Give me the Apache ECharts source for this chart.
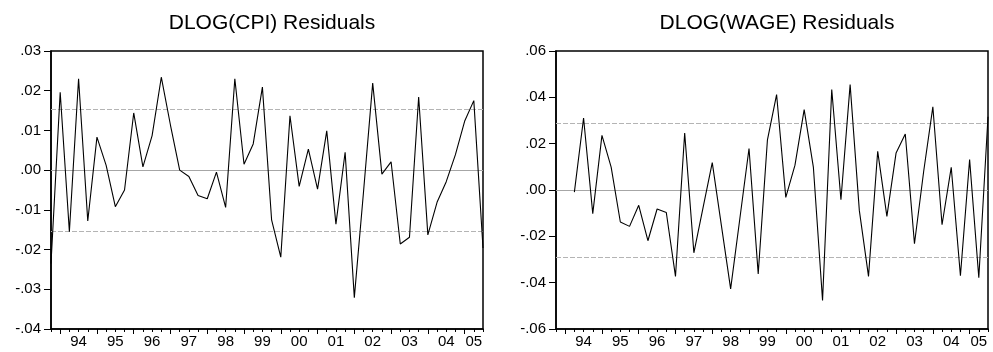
<!DOCTYPE html>
<html>
<head>
<meta charset="utf-8">
<script src="https://cdn.jsdelivr.net/npm/echarts@6/dist/echarts.min.js"></script>
<style>
  html, body { margin: 0; padding: 0; background: #fff; }
  #chart { width: 993px; height: 352px; }
</style>
</head>
<body>
<div id="chart"></div>
<script>
// Quarterly observations, 1993Q4 - 2005Q3
const quarters = [
  '1993Q4',
  '1994Q1','1994Q2','1994Q3','1994Q4',
  '1995Q1','1995Q2','1995Q3','1995Q4',
  '1996Q1','1996Q2','1996Q3','1996Q4',
  '1997Q1','1997Q2','1997Q3','1997Q4',
  '1998Q1','1998Q2','1998Q3','1998Q4',
  '1999Q1','1999Q2','1999Q3','1999Q4',
  '2000Q1','2000Q2','2000Q3','2000Q4',
  '2001Q1','2001Q2','2001Q3','2001Q4',
  '2002Q1','2002Q2','2002Q3','2002Q4',
  '2003Q1','2003Q2','2003Q3','2003Q4',
  '2004Q1','2004Q2','2004Q3','2004Q4',
  '2005Q1','2005Q2','2005Q3'
];

// Year tick labels
const yearLabels = ['94','95','96','97','98','99','00','01','02','03','04','05'];

// Residuals of the DLOG(CPI) equation
const cpiResid = [
  -0.0235,
  0.0196, -0.0155, 0.0230, -0.0128,
  0.0083, 0.0012, -0.0092, -0.0050,
  0.0144, 0.0008, 0.0087, 0.0234,
  0.0113, 0.0000, -0.0016, -0.0064,
  -0.0072, -0.0005, -0.0094, 0.0230,
  0.0015, 0.0066, 0.0209, -0.0125,
  -0.0219, 0.0137, -0.0041, 0.0053,
  -0.0048, 0.0099, -0.0136, 0.0045,
  -0.0321, -0.0055, 0.0219, -0.0010,
  0.0021, -0.0186, -0.0169, 0.0184,
  -0.0163, -0.0081, -0.0029, 0.0039,
  0.0123, 0.0175, -0.0196
];

// Residuals of the DLOG(WAGE) equation (first two quarters unavailable)
const wageResid = [
  null,
  null, -0.0009, 0.0311, -0.0102,
  0.0236, 0.0099, -0.0138, -0.0157,
  -0.0066, -0.0219, -0.0082, -0.0097,
  -0.0373, 0.0246, -0.0271, -0.0076,
  0.0118, -0.0155, -0.0427, -0.0124,
  0.0179, -0.0362, 0.0215, 0.0412,
  -0.0032, 0.0107, 0.0347, 0.0099,
  -0.0477, 0.0434, -0.0042, 0.0455,
  -0.0088, -0.0373, 0.0167, -0.0114,
  0.0160, 0.0242, -0.0232, 0.0080,
  0.0359, -0.0150, 0.0098, -0.0370,
  0.0131, -0.0379, 0.0316
];

// Plus/minus one standard error bands
const cpiBand = 0.0154;
const wageBand = 0.0289;

const FONT = 'Liberation Sans, Arial, sans-serif';

// Tick positions (in observation index units)
const lastIdx = quarters.length - 1;
const quarterTicks = quarters.map((q, i) => i);
const yearStarts = quarters.map((q, i) => q.endsWith('Q1') ? i : -1).filter(i => i >= 0);
const yearLabelPos = yearStarts.map(s => (s + Math.min(s + 4, lastIdx)) / 2);
const labelAt = {};
yearLabelPos.forEach((p, k) => { labelAt[p] = yearLabels[k]; });

function fmtY(v) {
  const s = v.toFixed(2);
  return s.replace('0.', '.');
}

function panel(gridIndex, left, title, values, band, yMin, yMax, yStep) {
  const grids = {
    left: left, top: 51, width: 432, height: 278,
    show: true, borderColor: '#000', borderWidth: 1.5, backgroundColor: '#fff'
  };
  const xAxes = [
    {
      type: 'category', gridIndex, data: quarters, boundaryGap: false,
      show: false
    },
    {
      type: 'value', gridIndex, min: 0, max: lastIdx, position: 'bottom',
      axisLine: { show: false },
      axisTick: { show: true, customValues: quarterTicks, length: 3, lineStyle: { color: '#000', width: 1 } },
      axisLabel: { show: false },
      splitLine: { show: false }
    },
    {
      type: 'value', gridIndex, min: 0, max: lastIdx, position: 'bottom',
      axisLine: { show: true, lineStyle: { color: '#000', width: 1.5 } },
      axisTick: { show: true, customValues: yearStarts, length: 5, lineStyle: { color: '#000', width: 1 } },
      axisLabel: {
        show: true, customValues: yearLabelPos, margin: 5,
        formatter: v => labelAt[v] || '',
        color: '#000', fontFamily: FONT, fontSize: 15
      },
      splitLine: { show: false }
    }
  ];
  const yAxis = {
    type: 'value', gridIndex, min: yMin, max: yMax, interval: yStep,
    axisLine: { show: true, lineStyle: { color: '#000', width: 1.5 } },
    axisTick: { show: true, length: 7, lineStyle: { color: '#000' } },
    axisLabel: { color: '#000', fontFamily: FONT, fontSize: 15, margin: 10, formatter: fmtY },
    splitLine: { show: false }
  };
  const titleOpt = {
    text: title, left: left + 216, top: 8, textAlign: 'center',
    textStyle: { fontFamily: FONT, fontSize: 21, fontWeight: 'normal', color: '#000' }
  };
  return { grids, xAxes, yAxis, titleOpt, values, band };
}

const panels = [
  panel(0, 51, 'DLOG(CPI) Residuals', cpiResid, cpiBand, -0.04, 0.03, 0.01),
  panel(1, 556, 'DLOG(WAGE) Residuals', wageResid, wageBand, -0.06, 0.06, 0.02)
];

const option = {
  backgroundColor: '#fff',
  animation: false,
  title: panels.map(p => p.titleOpt),
  grid: panels.map(p => p.grids),
  xAxis: [].concat(...panels.map(p => p.xAxes)),
  yAxis: panels.map(p => p.yAxis),
  series: panels.map((p, i) => ({
    type: 'line',
    xAxisIndex: i * 3,
    yAxisIndex: i,
    data: p.values,
    symbol: 'none',
    connectNulls: false,
    lineStyle: { color: '#000', width: 1.1 },
    z: 3,
    markLine: {
      silent: true,
      symbol: 'none',
      precision: 6,
      label: { show: false },
      z: 1,
      data: [
        { yAxis: 0, lineStyle: { color: '#a6a6a6', type: 'solid', width: 1 } },
        { yAxis: p.band, lineStyle: { color: '#b4b4b4', type: [5, 2], width: 1 } },
        { yAxis: -p.band, lineStyle: { color: '#b4b4b4', type: [5, 2], width: 1 } }
      ]
    }
  }))
};

const chart = echarts.init(document.getElementById('chart'), null, { renderer: 'canvas' });
chart.setOption(option);
</script>
</body>
</html>
